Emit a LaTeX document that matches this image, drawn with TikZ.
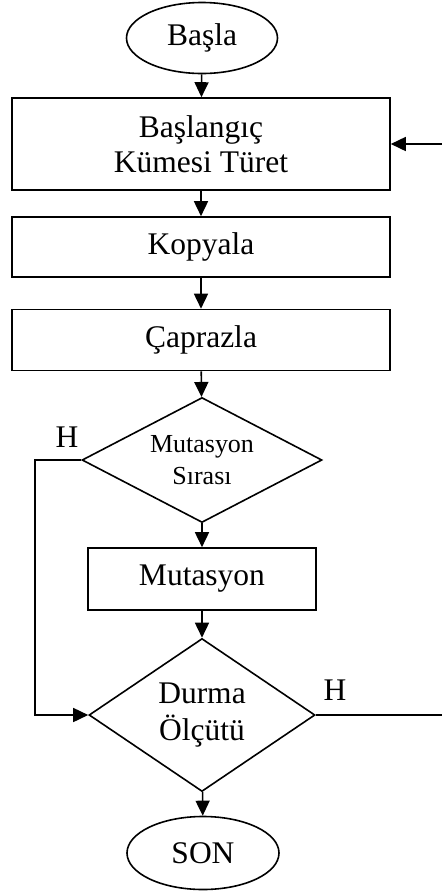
\documentclass[tikz,border=0pt]{standalone}
\usepackage{fontspec}
\setmainfont{Liberation Serif}
\usetikzlibrary{shapes.geometric, arrows.meta}

\begin{document}
\begin{tikzpicture}[
    x=0.5pt, y=-0.5pt,
    line width=0.8pt,
    box/.style={draw, rectangle, minimum width=189pt, inner sep=0pt, align=center, font=\fontsize{15.75}{17.5}\selectfont},
    term/.style={draw, ellipse, minimum width=75.5pt, minimum height=35.5pt, inner sep=0pt, font=\fontsize{15.75}{17.5}\selectfont},
    decide/.style={draw, diamond, inner sep=0pt, align=center},
    flow/.style={-{Triangle[length=7.5pt, width=7pt]}},
    lbl/.style={font=\fontsize{15.75}{17.5}\selectfont}
]
    \useasboundingbox (0,0) rectangle (441,891);

    % Nodes
    \node[term] (start) at (202, 38) {Başla};
    \node[box, minimum height=46pt] (init) at (201, 144) {Başlangıç\\Kümesi Türet};
    \node[box, minimum height=30pt] (copy) at (201, 247) {Kopyala};
    \node[box, minimum height=30.5pt] (cross) at (201, 340) {Çaprazla};
    \node[decide, minimum width=120pt, minimum height=62.5pt, shape aspect=1.9,
          font=\fontsize{13}{16}\selectfont] (mutq) at (202, 460) {Mutasyon\\Sırası};
    \node[box, minimum width=114pt, minimum height=31pt] (mut) at (202, 579) {Mutasyon};
    \node[decide, minimum width=113pt, minimum height=76.5pt, shape aspect=1.5,
          font=\fontsize{15.75}{18.5}\selectfont] (stopq) at (202, 715) {Durma\\Ölçütü};
    \node[term, minimum width=76pt, minimum height=36.5pt] (finish) at (203, 853) {SON};

    % Labels
    \node[lbl] (hleft) at (67, 437) {H};
    \node[lbl] (hright) at (335, 690) {H};

    % Loop corners
    \coordinate (lt) at (35, 460);
    \coordinate (rt) at (446, 715);

    % Arrows
    \draw[flow] (start) -- (init);
    \draw[flow] (init) -- (copy);
    \draw[flow] (copy) -- (cross);
    \draw[flow] (cross) -- (mutq);
    \draw[flow] (mutq) -- (mut);
    \draw[flow] (mut) -- (stopq);
    \draw[flow] (stopq) -- (finish);

    % H branches
    \draw[flow] (mutq.west) -- (lt) |- (stopq.west);
    \draw[flow] (stopq.east) -- (rt) |- (init.east);

\end{tikzpicture}
\end{document}
